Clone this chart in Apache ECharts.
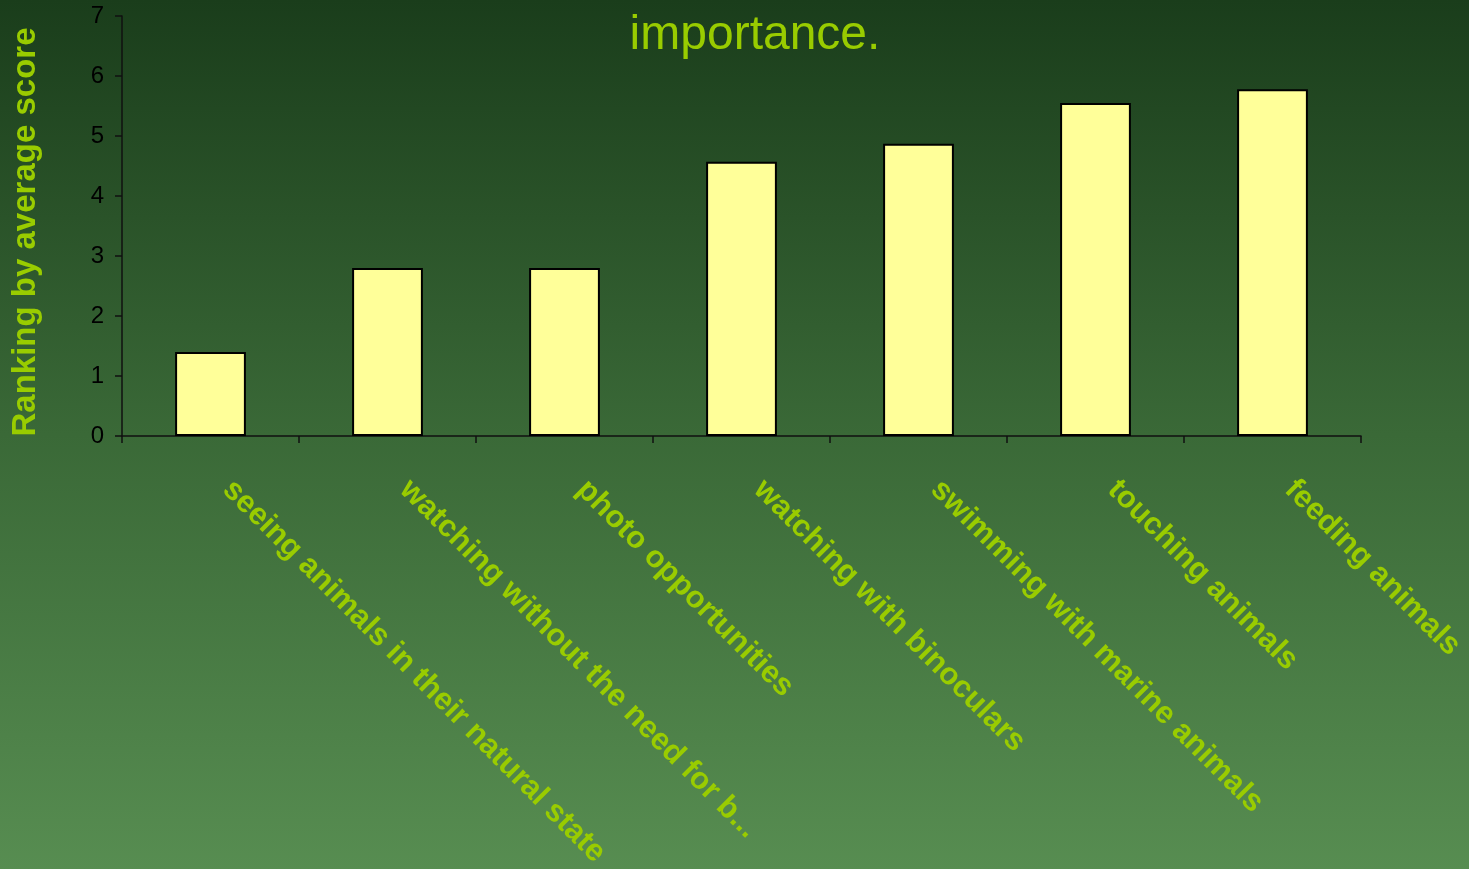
<!DOCTYPE html>
<html>
<head>
<meta charset="utf-8">
<script src="https://cdn.jsdelivr.net/npm/echarts@6/dist/echarts.min.js"></script>
<style>
html,body{margin:0;padding:0;width:1469px;height:869px;overflow:hidden;}
#c{width:1469px;height:869px;}
</style>
</head>
<body>
<div id="c"></div>
<script>
const categories = [
  "seeing animals in their natural state",
  "watching without the need for b...",
  "photo opportunities",
  "watching with binoculars",
  "swimming with marine animals",
  "touching animals",
  "feeding animals"
];
const scores = [1.4, 2.8, 2.8, 4.57, 4.87, 5.55, 5.78];
const yTicks = [0, 1, 2, 3, 4, 5, 6, 7];
const titleText = "importance.";
const yAxisName = "Ranking by average score";

const FONT = "'Liberation Sans', Arial, sans-serif";
const chart = echarts.init(document.getElementById('c'));
chart.setOption({
  animation: false,
  backgroundColor: {
    type: 'linear', x: 0, y: 0, x2: 0, y2: 1,
    colorStops: [
      {offset: 0, color: '#1a3d1b'},
      {offset: 0.5, color: '#3a6937'},
      {offset: 1, color: '#578d51'}
    ]
  },
  title: {
    text: titleText,
    left: 750, top: 7,
    textAlign: 'center',
    textStyle: {color: '#99cc00', fontSize: 48, fontWeight: 'normal', fontFamily: FONT}
  },
  grid: {left: 122, right: 108, top: 16, bottom: 433, containLabel: false, outerBoundsMode: 'none'},
  xAxis: {
    type: 'category',
    data: categories,
    axisLine: {lineStyle: {color: '#111', width: 1.5}},
    axisTick: {show: true, alignWithLabel: false, length: 7, lineStyle: {color: '#111', width: 1.5}},
    axisLabel: {
      interval: 0, rotate: -45, margin: 32,
      padding: [0, 0, 0, 24],
      color: '#99cc00', fontSize: 31, fontWeight: 'bold', fontFamily: FONT
    },
    splitLine: {show: false}
  },
  yAxis: {
    type: 'value',
    min: yTicks[0], max: yTicks[yTicks.length - 1], interval: 1,
    name: yAxisName,
    nameLocation: 'middle',
    nameGap: 80,
    nameRotate: 90,
    nameTextStyle: {color: '#99cc00', fontSize: 33, fontWeight: 'bold', fontFamily: FONT, padding: [0, 12, 0, 0]},
    axisLine: {show: true, lineStyle: {color: '#111', width: 1.5}},
    axisTick: {show: true, length: 7, lineStyle: {color: '#111', width: 1.5}},
    axisLabel: {color: '#000', fontSize: 24, margin: 18, fontFamily: FONT},
    splitLine: {show: false}
  },
  series: [{
    type: 'bar',
    data: scores,
    barWidth: '40%',
    itemStyle: {color: '#ffff99', borderColor: '#000', borderWidth: 2}
  }]
});
</script>
</body>
</html>
